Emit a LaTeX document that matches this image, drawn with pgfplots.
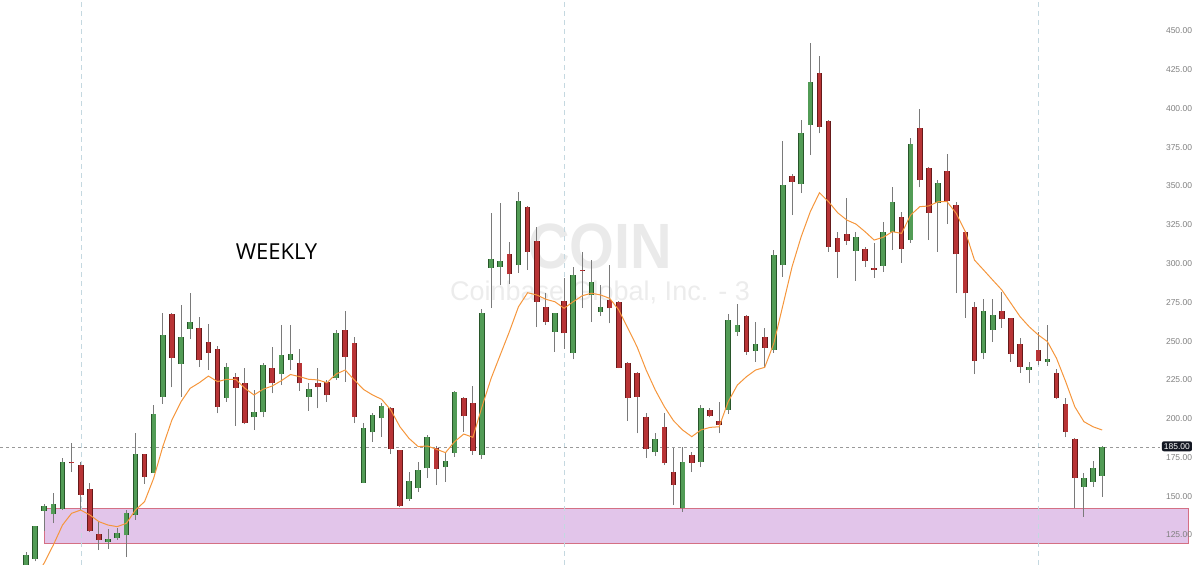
\documentclass[border=0pt]{standalone}
\usepackage{pgfplots}
\pgfplotsset{compat=1.18}
\usepackage{pgfplotstable}
\usepackage{fontspec}
\setmainfont{Liberation Sans}
\newfontfamily\wkfont{Open Sans}

\definecolor{upfill}{RGB}{82,156,86}
\definecolor{upline}{RGB}{40,86,42}
\definecolor{dnfill}{RGB}{184,52,54}
\definecolor{dnline}{RGB}{102,26,26}
\definecolor{wick}{RGB}{122,122,122}
\definecolor{maorange}{RGB}{245,150,60}
\definecolor{zonefill}{RGB}{226,197,234}
\definecolor{zoneline}{RGB}{212,112,132}
\definecolor{vgrid}{RGB}{196,216,224}
\definecolor{wmA}{RGB}{234,234,234}
\definecolor{wmB}{RGB}{236,236,236}
\definecolor{lbl}{RGB}{128,128,128}
\definecolor{lastbox}{RGB}{19,23,34}

\pgfplotstableread{
i O H L C
0 100 114 95 112.1
1 109.5 131 108 130.8
2 140.5 145 127.6 143.7
3 138.5 152.1 132.7 145
4 141.8 174.7 141 172.1
9 120.7 128.9 116 122.2
10 123.3 129.5 121.8 126.1
11 125 141.1 110.8 139.2
12 137.9 190.6 134.7 177.2
14 165 208.8 165 202.8
15 214.2 268 209.5 254
17 235.3 273.3 214 252.5
18 257.7 280.8 251.2 262.1
22 213.6 236 211 233.2
25 200.9 218.5 192.7 204.3
26 204.1 235.7 200.9 234.6
28 228.8 260.4 221.7 241.1
29 237.8 260.4 231.4 241.7
31 214.2 222.8 205.1 219.1
34 226 257.2 225 255
37 158.7 197.2 158.5 193.8
38 191.2 203.8 185 202.4
39 200.2 210.1 188.4 208.2
42 148 165.8 147 160
43 155.3 172.3 152.7 166.9
44 168 189.5 161.6 188
46 168.6 178.7 159.3 172.6
47 178.1 217.8 175.5 217.4
50 176.6 270.6 174 268
51 297.2 332.4 271.3 302.8
52 298.1 339 286.2 301.9
54 299.1 346.3 294.1 340.4
58 256.2 268.3 243.2 268
60 242.6 297.7 238.3 292.6
62 279.8 302.3 262.3 288.3
63 268.8 286.2 266.2 271.8
69 178.5 190.6 175.9 186.7
72 142.4 181.9 139.9 172.3
74 172.3 208.8 168.6 206.7
77 205.6 267.5 203 263.6
78 256 273.9 253.3 260.4
80 243.8 262.3 236.7 248.2
82 244.3 308.8 242.6 305.5
83 299.1 379.2 291.6 350.7
85 351.3 392.6 345.5 384
86 389.4 442.2 370 416.9
91 308.3 320.4 288.8 317.2
94 298.6 326.8 294.6 320.4
95 320.4 349.2 308.8 339.5
97 315.2 380.8 313.4 377.1
100 339.3 354 307.5 351.8
105 242.2 277 238.3 269.6
106 257.2 277 249.7 266.9
110 231.4 236.7 223 233.5
112 236.7 260.4 234 238.3
116 156.1 164.8 136.8 161.6
117 159.4 172.9 155.8 168
118 163 182.6 149.7 182
}\upcandles

\pgfplotstableread{
i O H L C
5 172 184.3 165.6 171.2
6 170.1 172.3 141.1 150.8
7 154.7 158.5 127 127.6
8 125.6 134 115.3 121.8
13 177.2 177.5 157.9 162.4
16 267.3 268.3 220.2 239.1
19 258.5 265.6 233.2 237.8
20 249.4 261 231.4 242.6
21 245.2 246.9 203.5 207.7
23 226.7 229.3 195.5 220
24 222.8 232.8 196.4 197.2
27 232.5 246.4 216.4 222.8
30 236.1 245.2 217.9 222.8
32 222.8 232.5 206.7 220.2
33 223.4 225 211 215.1
35 257.2 269.5 223.8 240
36 248.8 252.5 197.2 201.1
40 206.7 207.7 177.2 180.3
41 179.8 179.8 143 143.7
45 181.3 182.4 157.2 167.6
48 213.3 214.2 191.7 201.7
49 210.1 221.1 176.6 179.2
53 306.2 314.1 286.8 293.3
55 336.5 336.9 295.9 307.5
56 314.6 323.8 259.1 275.4
57 272 281 260.4 262.6
59 276.1 290.6 245.2 255
61 296.2 307.5 271.3 295.4
64 276.6 299.1 261.5 271.2
65 275.5 276.1 232.5 232.8
66 236.1 236.7 198.7 213.3
67 229.6 230.3 190.6 214.2
68 201.1 203.5 174.5 180.3
70 194.4 203.5 170.1 171.4
71 165.6 180.9 144.3 157.2
73 176.6 178.7 165.6 171.5
75 205.6 206.7 200.9 201.7
76 198.7 210.8 190.6 196.2
79 266.2 266.9 241.1 243
81 252.7 258.5 233.5 245.6
84 356.5 357.8 331.3 352.8
87 422.6 433.9 384 388.3
88 392.2 392.6 307.5 310.9
89 316.4 320.4 290.6 307.5
90 319.1 342.1 312 314.8
92 309.4 310.9 297.8 301.7
93 296.9 313.1 290.6 296.2
96 330 333.2 300.4 309.4
98 387.2 399.5 349.2 353.9
99 361.9 362.3 315.2 332.9
101 360 370.5 325.5 340.6
102 337.8 339.9 281 306
103 320.4 321.2 265 280.8
104 272.2 275.5 228.8 237.4
107 269.6 281.9 258.5 264.1
108 264.7 264.9 236.7 241.7
109 248.2 251.8 229.6 233.5
111 244.3 256.1 234.6 237.4
113 229.3 232 212.5 213.5
114 209.5 213.1 188 191.6
115 186.9 187.4 142.2 161.6
}\downcandles

\pgfplotstableread{
i M
1 97
2 107
3 118.6
4 131.4
5 139
6 141.1
7 137.9
8 133.6
9 131.4
10 130.4
11 132.5
12 141.1
13 146.5
14 161.6
15 182
16 199.2
17 211
18 219.6
19 223.2
20 227.5
21 223.9
22 225.4
23 225.4
24 219.6
25 215.3
26 219
27 221.1
28 224.5
29 228.5
30 227.1
31 225.4
32 225
33 223.2
34 228.8
35 231.4
36 225
37 218.9
38 215.3
39 212.5
40 205.6
41 194.8
42 187.3
43 182
44 182.4
45 180.3
46 178.1
47 185.2
48 190.1
49 188
50 207.7
51 226
52 241.1
53 256.1
54 272.2
55 281.2
56 279.8
57 277
58 275.4
59 271.2
60 275.4
61 279.3
62 280.9
63 279.8
64 277.6
65 270.1
66 258.3
67 246.4
68 231.4
69 218.5
70 207.7
71 198.7
72 192.7
73 188.4
74 192.7
75 194.4
76 194.8
77 211
78 221.7
79 227.1
80 231.4
81 233.1
82 248.6
83 273.3
84 298
85 317.4
86 333.5
87 345.7
88 339.9
89 332.8
90 328.1
91 325.5
92 320.6
93 315.2
94 317
95 320.6
96 319.5
97 331.3
98 336.7
99 337.2
100 339.9
101 339.9
102 332.4
103 320.6
104 302.3
105 295.9
106 289.4
107 283
108 274.4
109 265.8
110 259.3
111 254
112 249.7
113 238.9
114 223.9
115 207.7
116 198.1
117 194.8
118 192.7
}\matable

\begin{document}
\begin{tikzpicture}
\begin{axis}[
  scale only axis,
  width=1200pt, height=565pt,
  xmin=-2.851, xmax=128.73,
  ymin=105.66, ymax=469.99,
  hide axis,
  clip=true,
]
\path (rel axis cs:0,0) rectangle (rel axis cs:1,1);

% watermark
\node[text=wmA, anchor=base, inner sep=0pt, xscale=0.9] at (axis cs:62.94,297)
  {\fontsize{64}{64}\selectfont\bfseries COIN};
\node[text=wmB, anchor=base, inner sep=0pt] at (axis cs:62.94,276.5)
  {\fontsize{27}{27}\selectfont Coinbase Global, Inc. - 3};

% zone
\addplot[fill=zonefill, draw=zoneline, line width=1pt, forget plot]
  coordinates {(2.08,119.8) (127.5,119.8) (127.5,141.8) (2.08,141.8)} -- cycle;

% vertical time separators
\addplot[vgrid, line width=0.8pt, dash pattern=on 5pt off 4pt, forget plot]
  coordinates {(6.1,105.66) (6.1,469.99)};
\addplot[vgrid, line width=0.8pt, dash pattern=on 5pt off 4pt, forget plot]
  coordinates {(59.0,105.66) (59.0,469.99)};
\addplot[vgrid, line width=0.8pt, dash pattern=on 5pt off 4pt, forget plot]
  coordinates {(111.0,105.66) (111.0,469.99)};

% last price line
\addplot[gray!80, line width=0.8pt, dash pattern=on 3pt off 3pt, forget plot]
  coordinates {(-2.85,181.7) (124.3,181.7)};

% wicks
\addplot[draw=none, mark=none, forget plot,
  error bars/.cd, y dir=plus, y explicit, error mark=none,
  error bar style={draw=wick, line width=1pt}]
  table[x=i, y=L, y error plus expr=\thisrow{H}-\thisrow{L}] {\upcandles};
\addplot[draw=none, mark=none, forget plot,
  error bars/.cd, y dir=plus, y explicit, error mark=none,
  error bar style={draw=wick, line width=1pt}]
  table[x=i, y=L, y error plus expr=\thisrow{H}-\thisrow{L}] {\downcandles};

% bodies: outline then fill
\addplot[draw=none, mark=none, forget plot,
  error bars/.cd, y dir=plus, y explicit, error mark=none,
  error bar style={draw=upline, line width=5.6pt, line cap=butt}]
  table[x=i, y=O, y error plus expr=\thisrow{C}-\thisrow{O}] {\upcandles};
\addplot[draw=none, mark=none, forget plot,
  error bars/.cd, y dir=plus, y explicit, error mark=none,
  error bar style={draw=upfill, line width=3.8pt, line cap=butt}]
  table[x=i, y=O, y error plus expr=\thisrow{C}-\thisrow{O}] {\upcandles};
\addplot[draw=none, mark=none, forget plot,
  error bars/.cd, y dir=plus, y explicit, error mark=none,
  error bar style={draw=dnline, line width=5.6pt, line cap=butt}]
  table[x=i, y=C, y error plus expr=\thisrow{O}-\thisrow{C}] {\downcandles};
\addplot[draw=none, mark=none, forget plot,
  error bars/.cd, y dir=plus, y explicit, error mark=none,
  error bar style={draw=dnfill, line width=3.8pt, line cap=butt}]
  table[x=i, y=C, y error plus expr=\thisrow{O}-\thisrow{C}] {\downcandles};

% moving average
\addplot[maorange, line width=1pt, mark=none, forget plot] table[x=i, y=M] {\matable};

% title
\node[anchor=base, inner sep=0pt] at (axis cs:27.47,302.8)
  {\wkfont\fontsize{22}{22}\selectfont WEEKLY};

% price scale labels
\pgfplotsinvokeforeach{125,150,175,200,225,250,275,300,325,350,375,400,425,450}{
  \node[text=lbl, anchor=center, inner sep=0pt] at (axis cs:126.43,#1)
    {\fontsize{8.5}{10}\selectfont #1.00};
}
\node[fill=lastbox, text=white, rounded corners=2pt, inner xsep=2pt, inner ysep=2pt,
  anchor=center] at (axis cs:126.2,182.2) {\fontsize{8.5}{10}\selectfont 185.00};
\end{axis}
\end{tikzpicture}
\end{document}
